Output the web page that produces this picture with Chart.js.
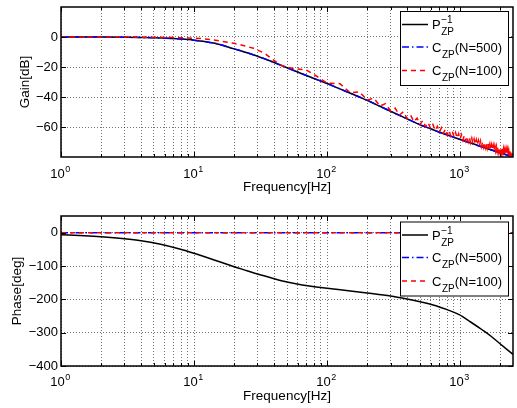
<!DOCTYPE html>
<html><head><meta charset="utf-8">
<script src="https://cdn.jsdelivr.net/npm/chart.js@4/dist/chart.umd.min.js"></script>
<style>
html,body{margin:0;padding:0;background:#fff;}
#c1{position:absolute;left:0;top:0;}
#c2{position:absolute;left:0;top:200px;}
</style></head><body>
<canvas id="c1" width="517" height="200"></canvas>
<canvas id="c2" width="517" height="208"></canvas>
<script>
// ---------- tick definitions ----------
const freqTicks = [1,2,3,4,5,6,7,8,9,10,20,30,40,50,60,70,80,90,100,200,300,400,500,600,700,800,900,1000,2000];
const decadeValues = [1,10,100,1000];
const decadeExponents = ['0','1','2','3'];
const gainTicks = [-60,-40,-20,0];
const phaseTicks = [-400,-300,-200,-100,0];
const seriesNames = ['P', 'C', 'C'];
const seriesSuffix = ['', '(N=500)', '(N=100)'];

// ---------- gain data ----------
const gainFreqP = [1,1.5,2,3,4,5,6,7,8,10,12,15,20,25,30,40,50,60,70,85,100,125,150,175,200,250,300,400,500,600,700,850,1000,1250,1500,1750,2000,2250,2500];
const gainP     = [0,-0.02,-0.05,-0.15,-0.3,-0.5,-0.75,-1.0,-1.35,-2.1,-3.0,-4.6,-7.9,-10.5,-12.8,-17,-20.5,-23.3,-25.7,-28.6,-31,-34.6,-37.5,-40,-42.2,-46.2,-49.5,-54.6,-58.5,-61.2,-63.5,-66.1,-68.3,-71.2,-73.6,-75.5,-77.2,-78.7,-80];
const gainFreqN500 = [1,1.5,2,3,4,5,6,7,8,10,12,15,20,25,30,40,50,60,70,85,100,125,150,175,200,250,300,400,500,600,700,850,1000,1250,1500,1750,2000,2250,2500];
const gainN500     = [0,-0.02,-0.05,-0.15,-0.3,-0.5,-0.75,-1.0,-1.35,-2.1,-3.0,-4.6,-7.9,-10.5,-12.8,-17,-20.5,-23.3,-25.7,-28.6,-31,-34.6,-37.5,-40,-42.2,-46.2,-49.5,-54.6,-58.5,-61.2,-63.5,-66.1,-68.3,-71.2,-73.6,-75.5,-77.2,-78.7,-80];
const gainFreqN100 = [1,2,3,5,7,9,11.4,14,17.3,20,23,28,34,39,45.5,50,59,70,83,100,
  125,150,175,200,225,250,275,300,325,350,375,400,425,450,475,500,525,550,575,600,625,650,675,700,725,750,775,800,825,850,875,900,925,950,975,1000,
  1025,1050,1075,1100,1125,1150,1175,1200,1225,1250,1275,1300,1325,1350,1375,1400,1425,1450,1475,1500,
  1525,1550,1575,1600,1625,1650,1675,1700,1725,1750,1775,1800,1825,1850,1875,1900,1925,1950,1975,2000,
  2025,2050,2075,2100,2125,2150,2175,2200,2225,2250,2275,2300,2325,2350,2375,2400,2425,2450,2475,2500];
const gainN100 = [0,0,-0.05,-0.15,-0.35,-0.65,-1.1,-2,-3.3,-4.2,-5.5,-7.5,-10.9,-15,-19,-20.2,-21.3,-22,-26,-30.8,
  -31.1,-37.3,-36.5,-42.0,-40.8,-46.0,-44.4,-49.3,-47.4,-52.0,-49.9,-54.4,-52.1,-56.4,-54.1,-58.3,-55.7,-59.7,-57.1,-61.0,-58.3,-62.2,-59.5,-63.3,-60.5,-64.2,-61.4,-65.1,-62.2,-65.9,-63.0,-66.7,-63.7,-67.4,-64.5,-68.1,
  -65.1,-68.8,-65.7,-69.3,-66.3,-69.9,-66.9,-70.5,-67.5,-71.0,-68.0,-71.5,-68.5,-72.0,-69.0,-72.5,-69.4,-73.0,-69.9,-73.4,
  -70.3,-73.8,-70.7,-74.2,-71.1,-74.6,-71.5,-75.0,-71.9,-75.3,-72.2,-75.7,-72.6,-76.0,-72.9,-76.4,-73.2,-76.7,-73.6,-77.0,
  -73.9,-77.3,-74.2,-77.6,-74.5,-77.9,-74.8,-78.2,-75.0,-78.5,-75.3,-78.8,-75.6,-79.0,-75.9,-79.3,-76.1,-79.5,-76.4,-79.8];

// ---------- phase data ----------
const phaseFreqP = [1,1.5,2,3,4,5.5,7.8,10,14,20,25,30,40,50,65,80,100,150,200,300,400,500,658,800,985,1200,1473,1700,1965,2200,2500];
const phaseP     = [-6,-9,-12,-18,-24,-34,-49,-62,-81,-102,-114,-124,-138,-148,-157,-162,-167,-175,-181,-190,-199,-207,-219,-231,-246,-268,-292,-310,-331,-347,-365];
const phaseFreqN500 = [1,2500];
const phaseN500     = [0,0];
const phaseFreqN100 = [1,2500];
const phaseN100     = [0,0];

// ---------- styles ----------
const FONT = '"Liberation Sans", Arial, Helvetica, sans-serif';
const styles = [
  {color:'#000000', dash:[]},
  {color:'#0000ff', dash:[7,3,1.5,3]},
  {color:'#ff0000', dash:[5,4]}
];

function pts(xs, ys){ return xs.map((x,i)=>({x:x, y:ys[i]})); }
function minus(v){ return v < 0 ? '\u2212' + (-v) : String(v); }

function makeDatasets(sets){
  return sets.map((s,i)=>({
    data: s,
    borderColor: styles[i].color,
    borderDash: styles[i].dash,
    borderWidth: 1.5,
    pointRadius: 0,
    fill: false,
    tension: 0,
    cubicInterpolationMode: i === 2 ? 'default' : 'monotone',
    order: 3 - i
  }));
}

function drawText(ctx, txt, x, y, size){
  ctx.font = size + 'px ' + FONT;
  ctx.fillText(txt, x, y);
  return ctx.measureText(txt).width;
}

function makeDecor(cfg){
  return {
    id: 'decor' + cfg.id,
    afterDraw(chart){
      const ctx = chart.ctx, a = chart.chartArea;
      const xs = chart.scales.x, ys = chart.scales.y;
      ctx.save();
      ctx.strokeStyle = '#000';
      ctx.fillStyle = '#000';
      // inward ticks
      ctx.lineWidth = 1;
      ctx.beginPath();
      freqTicks.forEach(v=>{
        const px = Math.round(xs.getPixelForValue(v)) + 0.5;
        const len = decadeValues.includes(v) ? 5 : 3;
        ctx.moveTo(px, a.bottom); ctx.lineTo(px, a.bottom - len);
        ctx.moveTo(px, a.top); ctx.lineTo(px, a.top + len);
      });
      cfg.yTicks.forEach(v=>{
        const py = Math.round(ys.getPixelForValue(v)) + 0.5;
        ctx.moveTo(a.left, py); ctx.lineTo(a.left + 5, py);
        ctx.moveTo(a.right, py); ctx.lineTo(a.right - 5, py);
      });
      ctx.stroke();
      // box
      ctx.lineWidth = 1.5;
      ctx.strokeRect(a.left, a.top, a.right - a.left, a.bottom - a.top);
      // decade labels
      ctx.textBaseline = 'alphabetic';
      ctx.textAlign = 'left';
      decadeValues.forEach((v,i)=>{
        const px = xs.getPixelForValue(v);
        ctx.font = '13px ' + FONT;
        const w1 = ctx.measureText('10').width;
        ctx.font = '9px ' + FONT;
        const w2 = ctx.measureText(decadeExponents[i]).width;
        const x0 = px - (w1 + w2) / 2 - 1;
        drawText(ctx, '10', x0, cfg.labelBase, 13);
        drawText(ctx, decadeExponents[i], x0 + w1 + 0.5, cfg.labelBase - 6, 9);
      });
      // legend
      const L = cfg.legend;
      ctx.fillStyle = '#fff';
      ctx.fillRect(L.x, L.y, L.w, L.h);
      ctx.lineWidth = 1;
      ctx.strokeStyle = '#000';
      ctx.strokeRect(L.x + 0.5, L.y + 0.5, L.w, L.h);
      L.rows.forEach((ry,i)=>{
        const y = L.y + ry;
        ctx.save();
        ctx.strokeStyle = styles[i].color;
        ctx.lineWidth = 1.5;
        ctx.setLineDash(styles[i].dash);
        ctx.beginPath();
        ctx.moveTo(L.x + 2, y); ctx.lineTo(L.x + 28, y);
        ctx.stroke();
        ctx.restore();
        ctx.fillStyle = '#000';
        let x = L.x + 32;
        const w = drawText(ctx, seriesNames[i], x, y + 4.7, 13);
        x += w;
        if (i === 0) {
          const ws = drawText(ctx, '\u22121', x + 0.5, y - 1.5, 10);
          const wz = drawText(ctx, 'ZP', x + 0.5, y + 10.5, 10);
          x += Math.max(ws, wz) + 0.5;
        } else {
          const wz = drawText(ctx, 'ZP', x + 0.5, y + 10.5, 10);
          x += wz + 0.5;
          drawText(ctx, seriesSuffix[i], x, y + 4.7, 13);
        }
      });
      ctx.restore();
    }
  };
}

function makeChart(canvasId, cfg){
  return new Chart(document.getElementById(canvasId), {
    type: 'line',
    data: { datasets: makeDatasets(cfg.sets) },
    options: {
      responsive: false,
      animation: false,
      devicePixelRatio: 1,
      layout: { padding: { left: 0, right: 4, top: cfg.padTop, bottom: 0 } },
      plugins: { legend: { display: false }, tooltip: { enabled: false } },
      scales: {
        x: {
          type: 'logarithmic',
          min: 1, max: 2500,
          afterBuildTicks: s => { s.ticks = freqTicks.map(v => ({ value: v })); },
          afterFit: s => { s.height = cfg.xHeight; s.paddingLeft = 0; s.paddingRight = 0; },
          ticks: { display: false },
          grid: { color: 'rgba(0,0,0,0.55)', lineWidth: 1, drawTicks: false, borderDash: [1,2] },
          border: { display: false, dash: [1,2] },
          title: { display: true, text: 'Frequency[Hz]', color: '#000',
                   font: { family: FONT, size: 13.5 }, padding: { top: 0, bottom: cfg.xTitlePad } }
        },
        y: {
          type: 'linear',
          min: cfg.yMin, max: cfg.yMax,
          afterBuildTicks: s => { s.ticks = cfg.yTicks.map(v => ({ value: v })); },
          afterFit: s => { s.width = 61; s.paddingTop = 0; s.paddingBottom = 0; },
          ticks: { color: '#000', font: { family: FONT, size: 13 }, padding: 3,
                   callback: v => minus(v) },
          grid: { color: 'rgba(0,0,0,0.55)', lineWidth: 1, drawTicks: false, borderDash: [1,2] },
          border: { display: false, dash: [1,2] },
          title: { display: true, text: cfg.yTitle, color: '#000',
                   font: { family: FONT, size: 13.5 }, padding: { top: cfg.yTitlePad, bottom: 0 } }
        }
      }
    },
    plugins: [makeDecor(cfg)]
  });
}

makeChart('c1', {
  id: 1,
  sets: [pts(gainFreqP, gainP), pts(gainFreqN500, gainN500), pts(gainFreqN100, gainN100)],
  padTop: 7, xHeight: 43, xTitlePad: 4.4,
  yMin: -80, yMax: 20, yTicks: gainTicks, yTitle: 'Gain[dB]', yTitlePad: 17,
  labelBase: 177.5,
  legend: { x: 400, y: 11, w: 108, h: 74, rows: [13.5, 36, 59.5] }
});

makeChart('c2', {
  id: 2,
  sets: [pts(phaseFreqP, phaseP), pts(phaseFreqN500, phaseN500), pts(phaseFreqN100, phaseN100)],
  padTop: 16, xHeight: 42, xTitlePad: 3.4,
  yMin: -400, yMax: 50, yTicks: phaseTicks, yTitle: 'Phase[deg]', yTitlePad: 9,
  labelBase: 185.5,
  legend: { x: 400, y: 21.5, w: 108, h: 74, rows: [13.5, 36, 59.5] }
});
</script>
</body></html>
